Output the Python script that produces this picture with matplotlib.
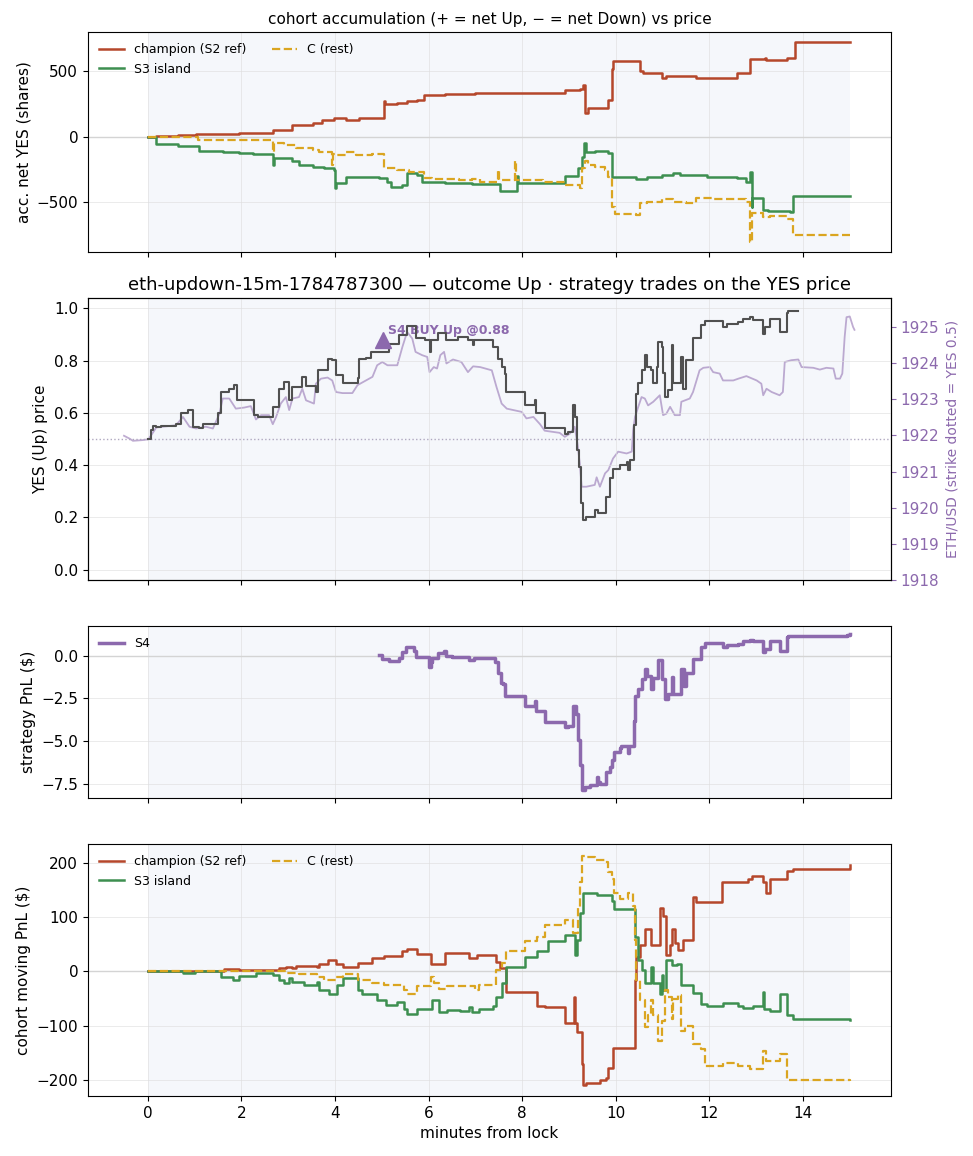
#!/usr/bin/env python3

import numpy as np
import matplotlib
matplotlib.use("Agg")
import matplotlib.pyplot as plt
from matplotlib.ticker import MultipleLocator

plt.rcParams["font.size"] = 11

# colours
C_CHAMP = "#b5472b"
C_S3 = "#3d8f50"
C_REST = "#daa520"
C_S4 = "#8c69ad"
C_YES = "#505050"
C_SPAN = "#f5f7fb"

MARKET = "eth-updown-15m-1784787300"
STRIKE = 1921.9
BUY_T = 5.02
BUY_PX = 0.88

# --- panel 1: accumulated net YES shares (step breakpoints) ---
acc_champ_t = [0, 0.18, 0.64, 1.03, 1.95, 2.67, 2.70, 3.09, 3.52, 3.73, 3.98, 4.23, 4.51, 5.05, 5.07, 5.33,
               5.54, 5.76, 5.90, 6.36, 7.0, 8.91, 9.23, 9.30, 9.34, 9.41, 9.84, 9.91, 9.94, 10.44, 10.51,
               10.59, 10.98, 11.08, 11.72, 12.58, 12.86, 13.19, 13.22, 13.65, 13.83, 15.0]
acc_champ = [0, 5, 15, 20, 30, 54, 54, 92, 105, 130, 143, 125, 143, 271, 253, 258,
             271, 284, 322, 330, 335, 356, 366, 392, 182, 220, 284, 515, 579, 579, 502,
             484, 450, 468, 450, 489, 591, 605, 586, 604, 724, 724]

acc_s3_t = [0, 0.18, 0.64, 1.10, 1.60, 1.95, 2.24, 2.67, 2.69, 3.09, 3.23, 3.52, 3.77, 3.98, 4.00, 4.03,
            4.23, 4.66, 4.94, 5.12, 5.19, 5.44, 5.54, 5.76, 5.86, 6.36, 6.93, 7.52, 7.88, 7.90, 8.45,
            8.91, 9.20, 9.27, 9.32, 9.37, 9.55, 9.84, 9.91, 10.44, 10.66, 10.98, 11.23, 11.37, 11.94,
            12.58, 12.79, 12.86, 12.90, 12.92, 13.15, 13.26, 13.72, 13.79, 15.0]
acc_s3 = [0, -54, -69, -105, -113, -125, -130, -215, -164, -189, -215, -228, -241, -253, -394, -356,
          -305, -310, -317, -343, -387, -369, -279, -292, -343, -351, -361, -412, -300, -351, -352,
          -300, -241, -151, -49, -113, -105, -125, -305, -325, -305, -292, -279, -292, -305,
          -317, -343, -266, -535, -471, -556, -566, -573, -453, -453]

acc_rest_t = [0, 0.18, 1.07, 2.0, 2.67, 2.69, 2.91, 3.16, 3.52, 3.66, 3.94, 3.96, 4.02, 4.23, 4.44, 4.80,
              5.05, 5.33, 5.58, 5.90, 6.08, 6.65, 6.93, 7.10, 7.48, 7.50, 7.84, 7.86, 8.45, 8.91, 9.23,
              9.27, 9.34, 9.41, 9.55, 9.77, 9.84, 9.91, 9.98, 10.44, 10.51, 10.66, 10.98, 11.23, 11.51,
              11.72, 12.08, 12.79, 12.87, 12.90, 13.15, 13.29, 13.65, 13.79, 15.0]
acc_rest = [0, -5, -23, -28, -113, -49, -61, -87, -100, -120, -215, -130, -138, -113, -138, -130,
            -241, -253, -266, -317, -325, -330, -325, -343, -253, -330, -189, -330, -343, -369, -394,
            -241, -189, -215, -228, -253, -305, -535, -591, -599, -509, -497, -479, -497, -504,
            -471, -479, -497, -804, -586, -612, -607, -625, -753, -753]

# --- panel 2: YES (Up) price and ETH/USD ---
yes_t = [0, 0.07, 0.10, 0.18, 0.28, 0.60, 0.71, 0.85, 0.96, 1.10, 1.17, 1.49, 1.56, 1.74, 1.85, 1.90,
         2.27, 2.35, 2.67, 2.81, 2.91, 3.02, 3.09, 3.30, 3.38, 3.59, 3.63, 3.84, 3.94, 4.02, 4.16,
         4.48, 4.51, 4.66, 4.76, 5.15, 5.37, 5.54, 5.72, 5.93, 6.03, 6.06, 6.20, 6.38, 6.63, 6.85,
         6.95, 6.97, 7.38, 7.49, 7.56, 7.63, 7.65, 8.06, 8.27, 8.29, 8.31, 8.48, 8.91, 8.98, 9.09,
         9.12, 9.16, 9.22, 9.25, 9.30, 9.37, 9.55, 9.62, 9.79, 9.87, 9.94, 10.09, 10.23, 10.26,
         10.30, 10.39, 10.43, 10.48, 10.55, 10.62, 10.66, 10.76, 10.80, 10.87, 10.90, 10.98, 11.01,
         11.05, 11.12, 11.19, 11.23, 11.40, 11.44, 11.51, 11.65, 11.83, 11.90, 12.29, 12.37, 12.62,
         12.72, 12.86, 12.94, 13.15, 13.19, 13.29, 13.50, 13.65, 13.68, 13.90]
yes_px = [0.50, 0.534, 0.55, 0.547, 0.55, 0.557, 0.598, 0.61, 0.547, 0.544, 0.559, 0.598, 0.681, 0.693,
          0.706, 0.651, 0.591, 0.585, 0.623, 0.693, 0.719, 0.649, 0.70, 0.738, 0.702, 0.681, 0.764,
          0.808, 0.802, 0.745, 0.713, 0.732, 0.808, 0.812, 0.834, 0.863, 0.898, 0.932, 0.885, 0.879,
          0.834, 0.879, 0.907, 0.879, 0.891, 0.881, 0.86, 0.881, 0.853, 0.808, 0.776, 0.748, 0.681,
          0.632, 0.65, 0.60, 0.60, 0.543, 0.521, 0.527, 0.630, 0.585, 0.457, 0.393, 0.253, 0.189,
          0.202, 0.227, 0.215, 0.278, 0.349, 0.387, 0.40, 0.413, 0.381, 0.419, 0.553, 0.674, 0.713,
          0.764, 0.821, 0.776, 0.764, 0.713, 0.776, 0.872, 0.853, 0.751, 0.662, 0.687, 0.86, 0.713,
          0.815, 0.693, 0.802, 0.885, 0.936, 0.953, 0.93, 0.94, 0.949, 0.958, 0.968, 0.955, 0.904,
          0.93, 0.958, 0.911, 0.981, 0.991, 0.991]

eth_t = [-0.51, -0.39, -0.32, -0.11, 0.0, 0.07, 0.18, 0.39, 0.60, 0.75, 0.89, 1.03, 1.24, 1.39, 1.53,
         1.60, 1.74, 1.88, 2.06, 2.20, 2.31, 2.42, 2.59, 2.67, 2.74, 2.84, 2.95, 3.02, 3.09, 3.23,
         3.30, 3.38, 3.55, 3.59, 3.70, 3.84, 3.94, 4.02, 4.16, 4.37, 4.48, 4.66, 4.80, 4.90, 5.01,
         5.12, 5.33, 5.44, 5.54, 5.65, 5.72, 5.86, 5.97, 6.02, 6.11, 6.18, 6.25, 6.33, 6.38, 6.52,
         6.70, 6.84, 6.95, 7.10, 7.35, 7.45, 7.56, 7.67, 7.99, 8.09, 8.24, 8.38, 8.48, 8.80, 8.91,
         9.02, 9.12, 9.18, 9.23, 9.27, 9.37, 9.55, 9.59, 9.66, 9.77, 9.84, 9.94, 10.05, 10.23,
         10.34, 10.37, 10.41, 10.48, 10.55, 10.62, 10.69, 10.80, 10.94, 11.01, 11.08, 11.16, 11.26,
         11.37, 11.40, 11.58, 11.65, 11.79, 11.87, 12.01, 12.08, 12.22, 12.29, 12.51, 12.62, 12.79,
         13.01, 13.11, 13.15, 13.22, 13.33, 13.50, 13.57, 13.61, 13.75, 13.90, 13.97, 14.22, 14.36,
         14.50, 14.65, 14.70, 14.79, 14.84, 14.89, 14.93, 15.00, 15.07, 15.10]
eth_px = [1921.99, 1921.91, 1921.85, 1921.87, 1921.89, 1922.00, 1922.22, 1922.25, 1922.28, 1922.51,
          1922.24, 1922.19, 1922.24, 1922.19, 1922.60, 1923.02, 1923.02, 1922.74, 1922.77, 1922.81,
          1922.44, 1922.56, 1922.56, 1922.31, 1922.51, 1922.88, 1923.06, 1922.70, 1923.02, 1923.06,
          1923.29, 1922.97, 1922.88, 1923.43, 1923.57, 1923.60, 1923.52, 1923.20, 1923.17, 1923.17,
          1923.39, 1923.52, 1923.62, 1923.94, 1924.03, 1923.94, 1923.94, 1924.45, 1924.86, 1924.68,
          1924.31, 1924.22, 1924.17, 1923.75, 1923.89, 1923.85, 1924.22, 1924.31, 1923.99, 1924.10,
          1924.03, 1923.75, 1923.91, 1923.89, 1923.80, 1923.34, 1922.88, 1922.74, 1922.65, 1922.47,
          1922.51, 1922.31, 1922.13, 1922.07, 1921.96, 1922.05, 1922.24, 1921.78, 1921.22, 1920.58,
          1920.58, 1920.63, 1920.84, 1920.58, 1920.95, 1921.04, 1921.36, 1921.55, 1921.50, 1921.55,
          1922.14, 1922.51, 1922.79, 1923.06, 1923.02, 1922.83, 1922.93, 1923.11, 1922.56, 1922.60,
          1922.79, 1922.56, 1922.56, 1922.93, 1923.02, 1923.20, 1923.80, 1923.87, 1923.89, 1923.75,
          1923.71, 1923.52, 1923.52, 1923.57, 1923.64, 1923.52, 1923.43, 1923.11, 1923.29, 1923.20,
          1923.11, 1923.20, 1924.03, 1924.08, 1924.10, 1923.89, 1923.87, 1923.82, 1923.87, 1923.85,
          1923.57, 1923.57, 1923.71, 1924.72, 1925.27, 1925.29, 1925.00, 1924.92]

# --- panel 3: S4 strategy PnL ---
s4_t = [4.94, 5.01, 5.15, 5.37, 5.44, 5.51, 5.69, 5.72, 6.01, 6.04, 6.08, 6.20, 6.33, 6.38, 6.50, 6.86,
        6.97, 7.38, 7.42, 7.49, 7.54, 7.59, 7.63, 8.06, 8.27, 8.29, 8.31, 8.48, 8.91, 8.98, 9.09, 9.15,
        9.20, 9.23, 9.27, 9.34, 9.45, 9.59, 9.61, 9.66, 9.80, 9.87, 9.91, 9.96, 10.09, 10.12, 10.26,
        10.28, 10.39, 10.41, 10.48, 10.55, 10.62, 10.66, 10.76, 10.80, 10.90, 10.98, 11.05, 11.12,
        11.19, 11.23, 11.40, 11.45, 11.51, 11.65, 11.83, 11.90, 12.29, 12.37, 12.62, 12.72, 12.86,
        12.94, 13.15, 13.19, 13.29, 13.50, 13.65, 13.68, 14.95, 15.0]
s4_pnl = [0.06, -0.20, -0.34, -0.14, 0.20, 0.49, 0.30, -0.10, -0.69, -0.39, -0.14, 0.14, 0.26, 0.0,
          -0.10, -0.26, -0.14, -0.14, -0.39, -0.99, -1.58, -1.68, -2.37, -2.96, -2.66, -3.26, -3.26,
          -3.89, -4.20, -4.14, -2.96, -3.45, -4.93, -6.41, -7.89, -7.70, -7.60, -7.10, -7.40, -7.50,
          -6.81, -6.51, -6.12, -5.66, -5.43, -5.27, -5.70, -5.27, -3.85, -2.37, -1.97, -1.38, -0.79,
          -1.18, -1.97, -1.30, -0.26, -1.38, -2.57, -2.27, -1.24, -2.27, -0.79, -1.78, -0.99, -0.20,
          0.49, 0.73, 0.49, 0.63, 0.69, 0.85, 0.93, 0.85, 0.20, 0.39, 0.85, 0.26, 1.09, 1.18, 1.22, 1.28]

# --- panel 4: cohort moving PnL ($) ---
pnl_champ_t = [0, 1.63, 1.95, 2.81, 2.95, 3.09, 3.16, 3.62, 3.66, 3.84, 4.02, 4.16, 4.48, 4.80, 5.05,
               5.44, 5.54, 5.76, 6.04, 6.36, 6.86, 7.04, 7.45, 7.52, 7.65, 8.31, 8.48, 8.91, 9.10, 9.13,
               9.18, 9.27, 9.30, 9.37, 9.66, 9.80, 9.84, 9.94, 10.41, 10.44, 10.51, 10.62, 10.76, 10.94,
               11.01, 11.08, 11.16, 11.19, 11.26, 11.33, 11.44, 11.65, 11.72, 12.26, 12.62, 12.83, 12.90,
               13.15, 13.22, 13.29, 13.65, 13.79, 14.98, 15.0]
pnl_champ = [0, 3.7, 2.5, 5.6, 8.7, 7.0, 10, 8, 13.6, 21, 14, 7.4, 15, 24, 28.5,
             36.6, 41.5, 32, 13, 33.5, 24, 30, 18, 5.6, -38, -63, -66, -94, -47, -94,
             -112, -171, -208, -205, -199, -196, -177, -141, -16, 27, 49, 77, 49, 117,
             102, 30, 49, 77, 52, 40, 58, 136, 128, 164, 165, 170, 175,
             164, 145, 170, 185, 188, 188, 195]

pnl_s3_t = [0, 0.75, 1.00, 1.56, 1.81, 1.95, 2.31, 2.67, 2.81, 2.91, 3.02, 3.09, 3.34, 3.62, 3.66, 3.87,
            4.05, 4.16, 4.48, 4.58, 4.90, 5.08, 5.33, 5.47, 5.54, 5.76, 6.08, 6.22, 6.40, 6.68, 6.86,
            6.93, 7.07, 7.38, 7.45, 7.56, 7.65, 8.06, 8.31, 8.56, 8.91, 9.12, 9.18, 9.23, 9.30, 9.59,
            9.91, 9.96, 10.41, 10.48, 10.55, 10.62, 10.76, 10.80, 10.94, 10.98, 11.01, 11.08, 11.19,
            11.30, 11.40, 11.65, 11.83, 11.94, 12.29, 12.62, 12.72, 12.94, 13.15, 13.17, 13.29, 13.50,
            13.65, 13.79, 14.98, 15.0]
pnl_s3 = [0, -3.7, 0, -10, -15, -8.7, -2.5, -7, -15, -22, -12, -19, -25, -20, -33.5, -41,
          -25, -13, -35, -41, -53, -61, -56, -69, -78, -69, -52, -75, -71, -72, -66,
          -75, -69, -63, -47, -22, 8.7, 27, 37, 55, 66, 30, 58, 108, 145, 140,
          130, 114, 64, 21, 2.5, -22, 8.7, -22, -41, -7, -35, 21, 12,
          13.6, -25, -40, -60, -63, -58, -63, -67, -63, -38, -69, -72, -41,
          -81, -87, -88, -90]

pnl_rest_t = [0, 2.81, 2.95, 3.23, 3.62, 3.77, 4.02, 4.16, 4.48, 4.80, 5.05, 5.47, 5.54, 5.76, 6.04,
              6.11, 6.22, 6.40, 7.00, 7.07, 7.45, 7.56, 7.65, 8.06, 8.31, 8.48, 8.91, 9.09, 9.20, 9.23,
              9.27, 9.37, 9.55, 9.77, 9.84, 9.91, 9.96, 10.09, 10.26, 10.37, 10.41, 10.44, 10.51, 10.62,
              10.69, 10.76, 10.80, 10.90, 10.98, 11.05, 11.12, 11.19, 11.23, 11.33, 11.40, 11.47, 11.65,
              11.83, 11.90, 12.29, 12.62, 12.86, 13.15, 13.22, 13.50, 13.65, 14.98, 15.0]
pnl_rest = [1.5, 0, -2.5, -5, -10, -16, -10, -5.6, -15, -21, -25, -33.5, -41, -27, -10,
            -22, -32, -27, -33.5, -25, 2.5, 15, 38, 55, 64, 86, 95, 71, 117, 164,
            213, 210, 204, 201, 182, 170, 145, 133, 145, 120, 58, -16, -53, -103,
            -81, -53, -81, -128, -91, -35, -47, -87, -50, -44, -109, -100, -134,
            -143, -174, -168, -174, -180, -146, -165, -151, -199, -199, -201]


def draw_cohorts(ax, t1, v1, t2, v2, t3, v3):
    ax.plot(t1, v1, drawstyle="steps-post", color=C_CHAMP, lw=1.8, label="champion (S2 ref)")
    ax.plot(t2, v2, drawstyle="steps-post", color=C_S3, lw=1.8, label="S3 island")
    ax.plot(t3, v3, drawstyle="steps-post", color=C_REST, lw=1.6, ls="--", label="C (rest)")
    ax.legend(loc="upper left", ncol=2, frameon=False, fontsize=9)


def main():
    fig, axes = plt.subplots(4, 1, sharex=True, figsize=(9.73, 11.56), dpi=100,
                             gridspec_kw=dict(height_ratios=[220, 282, 172, 252], hspace=0.199,
                                              left=0.0904, right=0.9157, top=0.9723, bottom=0.0519))
    ax1, ax2, ax3, ax4 = axes

    axe = ax2.twinx()
    for ax in axes:
        sp = axe if ax is ax2 else ax
        sp.axvspan(0, 15, color=C_SPAN, zorder=0, lw=0)
        ax.grid(True, color="#dddddd", lw=0.7, alpha=0.6)
        ax.set_axisbelow(True)

    # panel 1
    ax1.axhline(0, color="#d4d4d4", lw=1, zorder=1)
    draw_cohorts(ax1, acc_champ_t, acc_champ, acc_s3_t, acc_s3, acc_rest_t, acc_rest)
    ax1.yaxis.set_major_locator(MultipleLocator(500))
    ax1.set_ylabel("acc. net YES (shares)")
    ax1.set_title("cohort accumulation (+ = net Up, \u2212 = net Down) vs price", fontsize=11)

    # panel 2 (ETH on the twin below, YES price on top)
    axe.plot(eth_t, eth_px, color=C_S4, alpha=0.55, lw=1.3)
    d = 3.9
    axe.set_ylim(STRIKE - d, STRIKE + d)
    axe.yaxis.set_major_locator(MultipleLocator(1))
    axe.tick_params(axis="y", colors=C_S4)
    axe.set_ylabel("ETH/USD (strike dotted = YES 0.5)", color=C_S4, fontsize=10)
    ax2.set_zorder(axe.get_zorder() + 1)
    ax2.patch.set_visible(False)
    ax2.axhline(0.5, color="#b0a8c0", lw=1, ls=":", zorder=1)
    ax2.annotate("S4 BUY Up @%.2f" % BUY_PX, (BUY_T, BUY_PX), xytext=(4, 2), textcoords="offset points",
                 color=C_S4, fontsize=9, fontweight="bold", ha="left", va="bottom", zorder=2)
    ax2.plot(yes_t, yes_px, drawstyle="steps-post", color=C_YES, lw=1.5, zorder=3)
    ax2.plot([BUY_T], [BUY_PX], marker="^", ms=12, color=C_S4, ls="none", zorder=4)
    ax2.set_ylim(-0.04, 1.04)
    ax2.set_ylabel("YES (Up) price")
    ax2.set_title("%s \u2014 outcome Up \u00b7 strategy trades on the YES price" % MARKET, fontsize=13)

    # panel 3
    ax3.axhline(0, color="#d4d4d4", lw=1, zorder=1)
    ax3.plot(s4_t, s4_pnl, drawstyle="steps-post", color=C_S4, lw=2.5, label="S4")
    ax3.legend(loc="upper left", frameon=False, fontsize=9)
    ax3.yaxis.set_major_locator(MultipleLocator(2.5))
    ax3.set_ylabel("strategy PnL ($)")

    # panel 4
    ax4.axhline(0, color="#d4d4d4", lw=1, zorder=1)
    draw_cohorts(ax4, pnl_champ_t, pnl_champ, pnl_s3_t, pnl_s3, pnl_rest_t, pnl_rest)
    ax4.yaxis.set_major_locator(MultipleLocator(100))
    ax4.set_ylabel("cohort moving PnL ($)")
    ax4.set_xlabel("minutes from lock")

    ax4.set_xlim(-1.28, 15.88)
    ax4.set_xticks(np.arange(0, 15, 2))

    fig.savefig("out.png", dpi=100)


if __name__ == '__main__':
    main()
